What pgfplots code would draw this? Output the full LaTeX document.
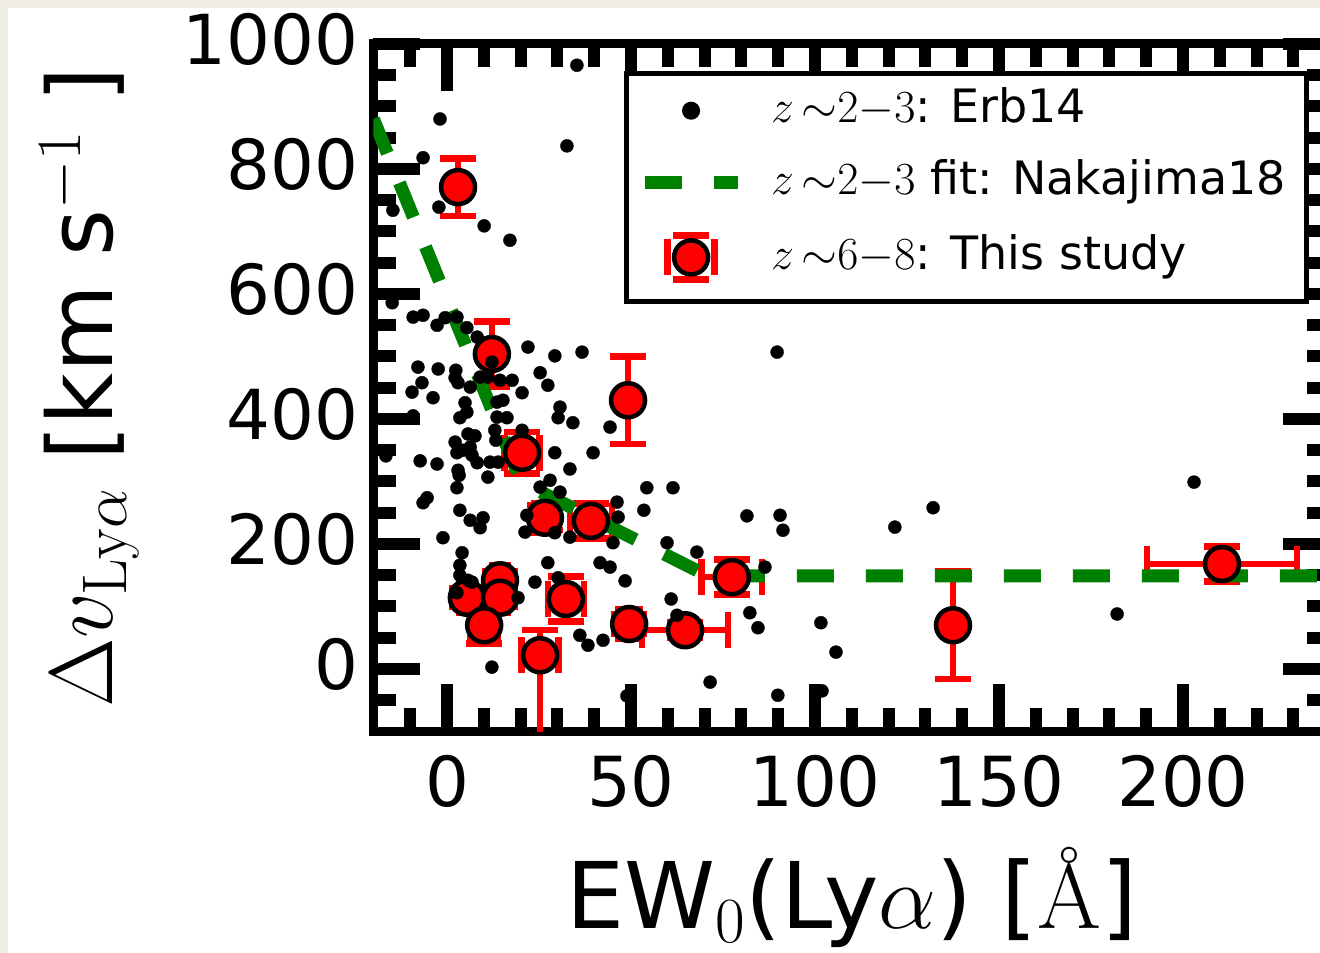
\RequirePackage{fix-cm}
\documentclass[border=0pt]{standalone}
\usepackage{fontspec}
\newfontfamily\dejavu{DejaVu Sans}
\usepackage{pgfplots}
\usepackage{pgfplotstable}
\pgfplotsset{compat=1.18}
\definecolor{beige}{RGB}{238,236,228}
\definecolor{fitgreen}{RGB}{0,128,0}

\pgfplotstableread{
x y
35.3 966
-1.9 880
32.6 837
-6.5 818
-2.2 739
-14.7 734
10.1 709
17.1 686
-14.9 586
-9.2 563
-6.5 566
-2.7 550
-0.5 562
2.7 563
5.4 546
8.2 531
12.2 491
22.0 515
29.3 501
36.7 507
-7.9 483
-2.4 480
2.4 478
2.2 466
3.0 458
-6.8 458
-9.5 443
-3.8 434
6.3 451
9.0 467
11.1 467
14.4 462
17.7 462
25.3 474
27.4 454
20.4 442
15.2 430
13.6 427
4.9 426
5.4 411
3.5 402
30.7 419
30.2 402
34.2 394
44.3 387
-9.2 405
13.6 403
16.3 402
13.0 382
13.3 366
5.7 376
7.6 373
20.4 382
2.2 363
2.7 346
4.3 350
6.3 355
6.8 342
8.2 330
-7.3 333
-2.7 328
3.0 318
3.3 310
2.7 290
11.1 307
11.7 331
13.9 331
-16.6 341
29.3 346
39.7 346
33.4 320
28.0 302
25.3 291
30.7 283
-5.4 274
-6.5 266
3.5 254
6.3 238
9.8 242
9.0 226
21.7 246
21.2 219
29.3 218
33.4 211
46.2 267
46.5 243
45.1 202
-1.1 210
4.1 186
3.5 166
27.4 170
41.6 170
44.3 163
54.3 290
61.4 290
53.5 254
59.8 202
81.5 245
90.5 246
91.3 222
67.9 187
5.7 142
6.8 139
3.5 150
2.7 122
23.9 139
48.4 141
30.2 146
19.3 114
86.4 163
60.9 112
82.3 90
84.5 66
62.5 86
36.1 54
38.3 38
42.4 46
101.6 74
105.7 27
12.2 3
71.5 -21
89.9 -42
48.9 -43
101.9 -35
89.7 507
121.7 227
132.1 258
203.0 299
182.1 88
}\erbdata

\pgfplotstableread{
x y ex eyp eym
3.0 771 0 46 46
12.2 504 0 52 52
49.2 430 0 70 70
20.4 346 4.8 33 33
26.6 242 3 20 20
39.1 237 5.7 28 28
77.4 147 8.2 28 28
137.5 70 0 86 86
210.6 168 20.4 28 28
64.7 62 11.7 12 12
49.5 72 3 15 15
25.3 22 5 40 200
32.3 112 4.9 36 36
5.4 114 2 15 15
14.4 142 2 15 15
14.4 114 2 15 15
10.1 70 3.8 29 29
}\thisdata

\pgfplotstableread{
x y
-20 880
20.2 299
70.8 149
240 149
}\fitdata

\pgfplotsset{
  erbleg/.style={legend image code/.code={
    \path[draw=none,fill=none] (0pt,-30.5pt) rectangle (106pt,23pt);
    \draw[black, mark=*, mark size=6.5pt] plot coordinates {(48pt,0pt)};}},
  fitleg/.style={legend image code/.code={
    \path[draw=none,fill=none] (0pt,-30.5pt) rectangle (106pt,23pt);
    \draw[fitgreen, line width=13pt, dash pattern=on 37pt off 32pt] (2pt,0pt) -- (95pt,0pt);}},
  thisleg/.style={legend image code/.code={
    \path[draw=none,fill=none] (0pt,-30.5pt) rectangle (106pt,23pt);
    \draw[red, line width=7pt] (30pt,22pt) -- (66pt,22pt) (30pt,-22pt) -- (66pt,-22pt)
       (24.5pt,-18pt) -- (24.5pt,18pt) (71.5pt,-18pt) -- (71.5pt,18pt);
    \draw[black, line width=4.5pt, mark=*, mark size=17pt, mark options={fill=red, draw=black}] plot coordinates {(48pt,0pt)};}},
}

\begin{document}
\begin{tikzpicture}[x=1pt,y=1pt]
\fill[beige] (0,0) rectangle (1320,953);
\fill[white] (8,0) rectangle (1320,945);
\useasboundingbox (0,0) rectangle (1320,953);
\begin{axis}[
  at={(373.4pt,221.5pt)}, anchor=south west,
  scale only axis, width=956.8pt, height=687.5pt,
  xmin=-20, xmax=240, ymin=-100, ymax=1000,
  xtick={0,50,100,150,200}, ytick={0,200,400,600,800,1000},
  minor xtick={-10,0,...,230}, minor ytick={-50,0,...,950},
  tick align=inside,
  major tick length=47pt, minor tick length=23pt,
  tick style={black, line width=12pt},
  axis line style={line width=9pt, black},
  scaled ticks=false,
  /pgf/number format/assume math mode=true,
  /pgf/number format/1000 sep={},
  ticklabel style={font=\dejavu\fontsize{69}{69}\selectfont, inner sep=0pt},
  xticklabel style={yshift=-23.5pt},
  yticklabel style={xshift=-15pt, yshift=5pt},
  xlabel={EW$_0$(Ly$\alpha$) [{\rmfamily Å}]},
  xlabel style={at={(axis description cs:0.5,-0.287)}, anchor=base, inner sep=0pt,
    font=\dejavu\fontsize{92}{92}\selectfont},
  ylabel={$\Delta v_{\mathrm{Ly}\alpha}$ [km s$^{-1}$ ]},
  ylabel style={at={(axis description cs:-0.2722,0.5)}, anchor=base, inner sep=0pt,
    font=\dejavu\fontsize{90}{90}\selectfont},
  legend cell align=left,
  legend style={at={(rel axis cs:0.2620,0.96)}, anchor=north west,
    draw=black, line width=5pt, fill=white,
    inner xsep=12pt, inner ysep=13.5pt, row sep=18.5pt, column sep=22pt,
    font=\dejavu\fontsize{46}{46}\selectfont,
    nodes={inner sep=0pt, text depth=11.4pt}},
]
\addplot[only marks, mark=*, mark size=17pt,
  mark options={fill=red, draw=black, line width=4.5pt}, forget plot,
  error bars/.cd, x dir=both, x explicit, y dir=both, y explicit,
  error bar style={red, line width=6.5pt},
  error mark options={rotate=90, red, line width=6.5pt, mark size=18pt}]
  table[x=x, y=y, x error=ex, y error plus=eyp, y error minus=eym] {\thisdata};
\addplot[only marks, mark=*, mark size=6.5pt, black, forget plot] table[x=x,y=y] {\erbdata};
\addplot[no marks, fitgreen, line width=13pt, dash pattern=on 37pt off 32pt, forget plot] table[x=x,y=y] {\fitdata};

\addlegendimage{erbleg}
\addlegendentry{\rule[-11pt]{0pt}{46pt}$z\,{\sim}2{-}3$: Erb14}
\addlegendimage{fitleg}
\addlegendentry{\rule[-11pt]{0pt}{46pt}$z\,{\sim}2{-}3$ fit: Nakajima18\rule{9pt}{0pt}}
\addlegendimage{thisleg}
\addlegendentry{\rule[-11pt]{0pt}{46pt}$z\,{\sim}6{-}8$: This study}
\end{axis}
\end{tikzpicture}
\end{document}
